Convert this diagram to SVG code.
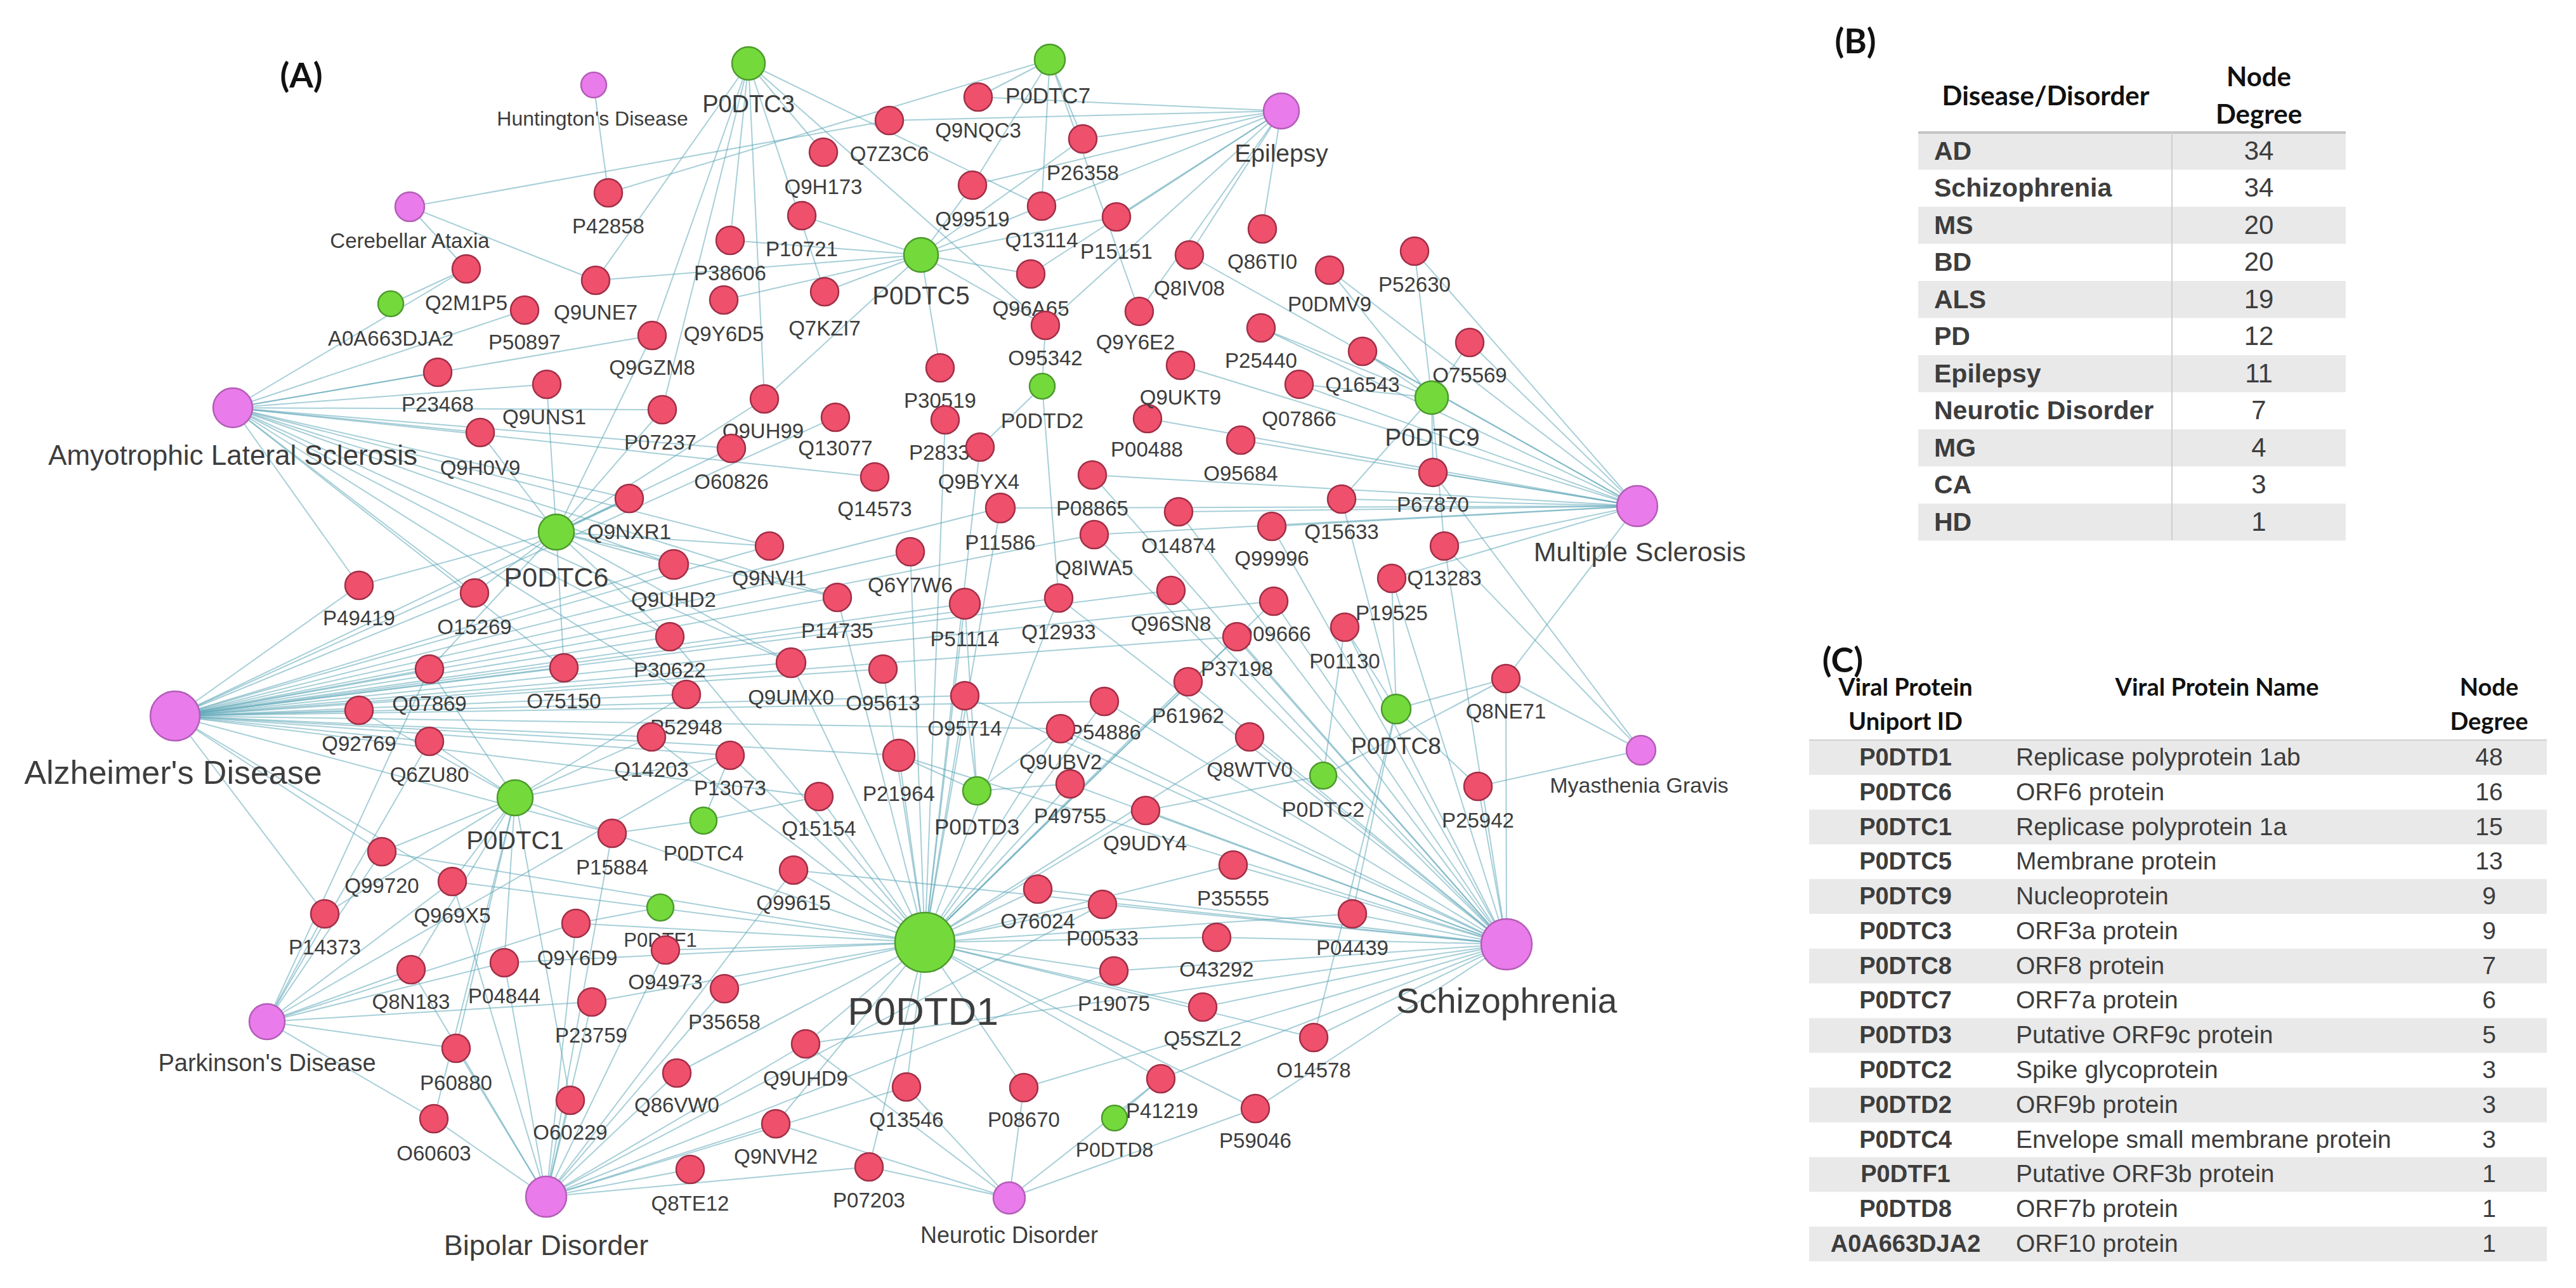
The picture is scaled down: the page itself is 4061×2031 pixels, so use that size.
<svg xmlns="http://www.w3.org/2000/svg" width="4061" height="2031" viewBox="0 0 4061 2031">
<style>
.r{fill:#ef506c;stroke:#a22f47;stroke-width:2.5}
.g{fill:#74da3c;stroke:#4c9a2c;stroke-width:2.5}
.d{fill:#e97beb;stroke:#b35db7;stroke-width:2.5}
text{font-family:"Liberation Sans",Arial,sans-serif;fill:#3d3d3d;text-anchor:middle}
.l{font-size:33px}
.t{font-family:Lato,"Liberation Sans",sans-serif;fill:#111}
.tb{font-family:Lato,"Liberation Sans",sans-serif;font-weight:bold;fill:#111}
.gr{fill:#e9e9e9}
</style>
<rect width="4061" height="2031" fill="#ffffff"/>
<text class="tb" x="475" y="138" font-size="54">(A)</text>
<g id="connectors" stroke="#5fa8b8" stroke-width="2" stroke-opacity="0.55" fill="none">
<line x1="936" y1="134" x2="959" y2="304"/>
<line x1="646" y1="326" x2="735" y2="424"/><line x1="646" y1="326" x2="939" y2="442"/><line x1="646" y1="326" x2="1402" y2="190"/>
<line x1="367" y1="643" x2="735" y2="424"/><line x1="367" y1="643" x2="690" y2="587"/><line x1="367" y1="643" x2="862" y2="606"/><line x1="367" y1="643" x2="757" y2="682"/><line x1="367" y1="643" x2="827" y2="489"/><line x1="367" y1="643" x2="1028" y2="529"/><line x1="367" y1="643" x2="1044" y2="646"/><line x1="367" y1="643" x2="1153" y2="707"/><line x1="367" y1="643" x2="992" y2="786"/><line x1="367" y1="643" x2="1062" y2="890"/><line x1="367" y1="643" x2="1213" y2="861"/><line x1="367" y1="643" x2="1056" y2="1004"/><line x1="367" y1="643" x2="889" y2="1053"/><line x1="367" y1="643" x2="566" y2="923"/><line x1="367" y1="643" x2="748" y2="935"/><line x1="367" y1="643" x2="1379" y2="752"/><line x1="367" y1="643" x2="1320" y2="942"/><line x1="367" y1="643" x2="1247" y2="1045"/><line x1="367" y1="643" x2="1082" y2="1095"/>
<line x1="276" y1="1129" x2="566" y2="923"/><line x1="276" y1="1129" x2="748" y2="935"/><line x1="276" y1="1129" x2="677" y2="1055"/><line x1="276" y1="1129" x2="889" y2="1053"/><line x1="276" y1="1129" x2="566" y2="1120"/><line x1="276" y1="1129" x2="677" y2="1169"/><line x1="276" y1="1129" x2="602" y2="1343"/><line x1="276" y1="1129" x2="713" y2="1390"/><line x1="276" y1="1129" x2="512" y2="1441"/><line x1="276" y1="1129" x2="1056" y2="1004"/><line x1="276" y1="1129" x2="1082" y2="1095"/><line x1="276" y1="1129" x2="1027" y2="1162"/><line x1="276" y1="1129" x2="1151" y2="1191"/><line x1="276" y1="1129" x2="1062" y2="890"/><line x1="276" y1="1129" x2="992" y2="786"/><line x1="276" y1="1129" x2="1247" y2="1045"/><line x1="276" y1="1129" x2="1392" y2="1055"/><line x1="276" y1="1129" x2="1320" y2="942"/><line x1="276" y1="1129" x2="1213" y2="861"/><line x1="276" y1="1129" x2="1435" y2="870"/><line x1="276" y1="1129" x2="1521" y2="952"/><line x1="276" y1="1129" x2="1521" y2="1097"/><line x1="276" y1="1129" x2="1669" y2="943"/><line x1="276" y1="1129" x2="1577" y2="801"/><line x1="276" y1="1129" x2="1725" y2="843"/><line x1="276" y1="1129" x2="1741" y2="1106"/><line x1="276" y1="1129" x2="1672" y2="1149"/><line x1="276" y1="1129" x2="1417" y2="1191"/><line x1="276" y1="1129" x2="1291" y2="1256"/><line x1="276" y1="1129" x2="965" y2="1314"/><line x1="276" y1="1129" x2="1846" y2="931"/><line x1="276" y1="1129" x2="2008" y2="948"/><line x1="276" y1="1129" x2="1950" y2="1004"/><line x1="276" y1="1129" x2="1317" y2="658"/>
<line x1="2375" y1="1489" x2="2132" y2="1441"/><line x1="2375" y1="1489" x2="1944" y2="1364"/><line x1="2375" y1="1489" x2="1918" y2="1478"/><line x1="2375" y1="1489" x2="1896" y2="1588"/><line x1="2375" y1="1489" x2="2071" y2="1636"/><line x1="2375" y1="1489" x2="1830" y2="1701"/><line x1="2375" y1="1489" x2="1979" y2="1748"/><line x1="2375" y1="1489" x2="1756" y2="1531"/><line x1="2375" y1="1489" x2="1738" y2="1426"/><line x1="2375" y1="1489" x2="1636" y2="1402"/><line x1="2375" y1="1489" x2="1806" y2="1278"/><line x1="2375" y1="1489" x2="1687" y2="1236"/><line x1="2375" y1="1489" x2="1672" y2="1149"/><line x1="2375" y1="1489" x2="1741" y2="1106"/><line x1="2375" y1="1489" x2="1873" y2="1075"/><line x1="2375" y1="1489" x2="1970" y2="1162"/><line x1="2375" y1="1489" x2="1950" y2="1004"/><line x1="2375" y1="1489" x2="2008" y2="948"/><line x1="2375" y1="1489" x2="1846" y2="931"/><line x1="2375" y1="1489" x2="2120" y2="989"/><line x1="2375" y1="1489" x2="2194" y2="912"/><line x1="2375" y1="1489" x2="2277" y2="861"/><line x1="2375" y1="1489" x2="2374" y2="1070"/><line x1="2375" y1="1489" x2="2330" y2="1240"/><line x1="2375" y1="1489" x2="1669" y2="943"/><line x1="2375" y1="1489" x2="1725" y2="843"/><line x1="2375" y1="1489" x2="1858" y2="807"/><line x1="2375" y1="1489" x2="2005" y2="830"/><line x1="2375" y1="1489" x2="1722" y2="749"/><line x1="2375" y1="1489" x2="1521" y2="1097"/><line x1="2375" y1="1489" x2="1417" y2="1191"/><line x1="2375" y1="1489" x2="1251" y2="1372"/><line x1="2375" y1="1489" x2="1270" y2="1646"/><line x1="2375" y1="1489" x2="1614" y2="1715"/>
<line x1="2581" y1="798" x2="2259" y2="745"/><line x1="2581" y1="798" x2="2115" y2="787"/><line x1="2581" y1="798" x2="2277" y2="861"/><line x1="2581" y1="798" x2="2317" y2="540"/><line x1="2581" y1="798" x2="2230" y2="396"/><line x1="2581" y1="798" x2="2148" y2="554"/><line x1="2581" y1="798" x2="2048" y2="606"/><line x1="2581" y1="798" x2="1988" y2="517"/><line x1="2581" y1="798" x2="1956" y2="694"/><line x1="2581" y1="798" x2="1858" y2="807"/><line x1="2581" y1="798" x2="2005" y2="830"/><line x1="2581" y1="798" x2="1725" y2="843"/><line x1="2581" y1="798" x2="1809" y2="660"/><line x1="2581" y1="798" x2="1722" y2="749"/><line x1="2581" y1="798" x2="1875" y2="402"/><line x1="2581" y1="798" x2="1861" y2="576"/><line x1="2581" y1="798" x2="2194" y2="912"/><line x1="2581" y1="798" x2="2374" y2="1070"/><line x1="2581" y1="798" x2="2096" y2="426"/><line x1="2581" y1="798" x2="1577" y2="801"/>
<line x1="861" y1="1887" x2="684" y2="1764"/><line x1="861" y1="1887" x2="899" y2="1735"/><line x1="861" y1="1887" x2="1067" y2="1692"/><line x1="861" y1="1887" x2="1088" y2="1844"/><line x1="861" y1="1887" x2="1223" y2="1772"/><line x1="861" y1="1887" x2="719" y2="1653"/><line x1="861" y1="1887" x2="795" y2="1518"/><line x1="861" y1="1887" x2="648" y2="1529"/><line x1="861" y1="1887" x2="933" y2="1580"/><line x1="861" y1="1887" x2="908" y2="1456"/><line x1="861" y1="1887" x2="1142" y2="1559"/><line x1="861" y1="1887" x2="1270" y2="1646"/><line x1="861" y1="1887" x2="1049" y2="1498"/><line x1="861" y1="1887" x2="713" y2="1390"/><line x1="861" y1="1887" x2="1370" y2="1840"/><line x1="861" y1="1887" x2="1429" y2="1714"/><line x1="861" y1="1887" x2="965" y2="1314"/><line x1="861" y1="1887" x2="1251" y2="1372"/><line x1="861" y1="1887" x2="1756" y2="1531"/><line x1="861" y1="1887" x2="1738" y2="1426"/>
<line x1="421" y1="1611" x2="512" y2="1441"/><line x1="421" y1="1611" x2="602" y2="1343"/><line x1="421" y1="1611" x2="713" y2="1390"/><line x1="421" y1="1611" x2="648" y2="1529"/><line x1="421" y1="1611" x2="795" y2="1518"/><line x1="421" y1="1611" x2="719" y2="1653"/><line x1="421" y1="1611" x2="684" y2="1764"/><line x1="421" y1="1611" x2="933" y2="1580"/><line x1="421" y1="1611" x2="908" y2="1456"/><line x1="421" y1="1611" x2="677" y2="1169"/><line x1="421" y1="1611" x2="1151" y2="1191"/><line x1="421" y1="1611" x2="677" y2="1055"/>
<line x1="2020" y1="175" x2="1990" y2="361"/><line x1="2020" y1="175" x2="1875" y2="402"/><line x1="2020" y1="175" x2="1760" y2="342"/><line x1="2020" y1="175" x2="1707" y2="219"/><line x1="2020" y1="175" x2="1642" y2="325"/><line x1="2020" y1="175" x2="1625" y2="432"/><line x1="2020" y1="175" x2="1542" y2="153"/><line x1="2020" y1="175" x2="1796" y2="491"/><line x1="2020" y1="175" x2="1533" y2="292"/><line x1="2020" y1="175" x2="1402" y2="190"/><line x1="2020" y1="175" x2="1648" y2="513"/>
<line x1="1591" y1="1889" x2="1429" y2="1714"/><line x1="1591" y1="1889" x2="1614" y2="1715"/><line x1="1591" y1="1889" x2="1370" y2="1840"/><line x1="1591" y1="1889" x2="1830" y2="1701"/><line x1="1591" y1="1889" x2="1270" y2="1646"/><line x1="1591" y1="1889" x2="1223" y2="1772"/><line x1="1591" y1="1889" x2="1979" y2="1748"/>
<line x1="2587" y1="1183" x2="2330" y2="1240"/><line x1="2587" y1="1183" x2="2374" y2="1070"/><line x1="2587" y1="1183" x2="2259" y2="745"/><line x1="2587" y1="1183" x2="2277" y2="861"/>
<line x1="1458" y1="1486" x2="1251" y2="1372"/><line x1="1458" y1="1486" x2="1636" y2="1402"/><line x1="1458" y1="1486" x2="1738" y2="1426"/><line x1="1458" y1="1486" x2="1756" y2="1531"/><line x1="1458" y1="1486" x2="1142" y2="1559"/><line x1="1458" y1="1486" x2="1049" y2="1498"/><line x1="1458" y1="1486" x2="1270" y2="1646"/><line x1="1458" y1="1486" x2="1429" y2="1714"/><line x1="1458" y1="1486" x2="1614" y2="1715"/><line x1="1458" y1="1486" x2="1370" y2="1840"/><line x1="1458" y1="1486" x2="1223" y2="1772"/><line x1="1458" y1="1486" x2="1067" y2="1692"/><line x1="1458" y1="1486" x2="1830" y2="1701"/><line x1="1458" y1="1486" x2="1979" y2="1748"/><line x1="1458" y1="1486" x2="1896" y2="1588"/><line x1="1458" y1="1486" x2="1918" y2="1478"/><line x1="1458" y1="1486" x2="1944" y2="1364"/><line x1="1458" y1="1486" x2="2132" y2="1441"/><line x1="1458" y1="1486" x2="2071" y2="1636"/><line x1="1458" y1="1486" x2="1417" y2="1191"/><line x1="1458" y1="1486" x2="1291" y2="1256"/><line x1="1458" y1="1486" x2="1151" y2="1191"/><line x1="1458" y1="1486" x2="1521" y2="952"/><line x1="1458" y1="1486" x2="1320" y2="942"/><line x1="1458" y1="1486" x2="1521" y2="1097"/><line x1="1458" y1="1486" x2="1672" y2="1149"/><line x1="1458" y1="1486" x2="1687" y2="1236"/><line x1="1458" y1="1486" x2="1806" y2="1278"/><line x1="1458" y1="1486" x2="1873" y2="1075"/><line x1="1458" y1="1486" x2="1970" y2="1162"/><line x1="1458" y1="1486" x2="1741" y2="1106"/><line x1="1458" y1="1486" x2="1027" y2="1162"/><line x1="1458" y1="1486" x2="965" y2="1314"/><line x1="1458" y1="1486" x2="908" y2="1456"/><line x1="1458" y1="1486" x2="933" y2="1580"/><line x1="1458" y1="1486" x2="713" y2="1390"/><line x1="1458" y1="1486" x2="602" y2="1343"/><line x1="1458" y1="1486" x2="795" y2="1518"/><line x1="1458" y1="1486" x2="1056" y2="1004"/><line x1="1458" y1="1486" x2="1247" y2="1045"/><line x1="1458" y1="1486" x2="1392" y2="1055"/><line x1="1458" y1="1486" x2="1435" y2="870"/><line x1="1458" y1="1486" x2="1577" y2="801"/><line x1="1458" y1="1486" x2="1545" y2="705"/><line x1="1458" y1="1486" x2="1490" y2="662"/><line x1="1458" y1="1486" x2="1669" y2="943"/><line x1="1458" y1="1486" x2="1950" y2="1004"/><line x1="1458" y1="1486" x2="2008" y2="948"/>
<line x1="877" y1="839" x2="992" y2="786"/><line x1="877" y1="839" x2="566" y2="923"/><line x1="877" y1="839" x2="748" y2="935"/><line x1="877" y1="839" x2="1062" y2="890"/><line x1="877" y1="839" x2="1056" y2="1004"/><line x1="877" y1="839" x2="757" y2="682"/><line x1="877" y1="839" x2="862" y2="606"/><line x1="877" y1="839" x2="1044" y2="646"/><line x1="877" y1="839" x2="1028" y2="529"/><line x1="877" y1="839" x2="677" y2="1055"/><line x1="877" y1="839" x2="889" y2="1053"/><line x1="877" y1="839" x2="1213" y2="861"/><line x1="877" y1="839" x2="1320" y2="942"/><line x1="877" y1="839" x2="1247" y2="1045"/><line x1="877" y1="839" x2="1153" y2="707"/><line x1="877" y1="839" x2="1205" y2="629"/>
<line x1="812" y1="1258" x2="677" y2="1169"/><line x1="812" y1="1258" x2="566" y2="1120"/><line x1="812" y1="1258" x2="677" y2="1055"/><line x1="812" y1="1258" x2="602" y2="1343"/><line x1="812" y1="1258" x2="713" y2="1390"/><line x1="812" y1="1258" x2="512" y2="1441"/><line x1="812" y1="1258" x2="795" y2="1518"/><line x1="812" y1="1258" x2="648" y2="1529"/><line x1="812" y1="1258" x2="719" y2="1653"/><line x1="812" y1="1258" x2="684" y2="1764"/><line x1="812" y1="1258" x2="899" y2="1735"/><line x1="812" y1="1258" x2="965" y2="1314"/><line x1="812" y1="1258" x2="1027" y2="1162"/><line x1="812" y1="1258" x2="1082" y2="1095"/><line x1="812" y1="1258" x2="1151" y2="1191"/>
<line x1="1452" y1="402" x2="1264" y2="340"/><line x1="1452" y1="402" x2="1151" y2="379"/><line x1="1452" y1="402" x2="1141" y2="473"/><line x1="1452" y1="402" x2="1300" y2="460"/><line x1="1452" y1="402" x2="1625" y2="432"/><line x1="1452" y1="402" x2="1648" y2="513"/><line x1="1452" y1="402" x2="1642" y2="325"/><line x1="1452" y1="402" x2="1533" y2="292"/><line x1="1452" y1="402" x2="1482" y2="580"/><line x1="1452" y1="402" x2="939" y2="442"/><line x1="1452" y1="402" x2="1760" y2="342"/><line x1="1452" y1="402" x2="1707" y2="219"/><line x1="1452" y1="402" x2="1205" y2="629"/>
<line x1="2257" y1="627" x2="2148" y2="554"/><line x1="2257" y1="627" x2="2317" y2="540"/><line x1="2257" y1="627" x2="2230" y2="396"/><line x1="2257" y1="627" x2="2096" y2="426"/><line x1="2257" y1="627" x2="2259" y2="745"/><line x1="2257" y1="627" x2="2048" y2="606"/><line x1="2257" y1="627" x2="2115" y2="787"/><line x1="2257" y1="627" x2="2277" y2="861"/><line x1="2257" y1="627" x2="1988" y2="517"/>
<line x1="1180" y1="100" x2="939" y2="442"/><line x1="1180" y1="100" x2="1028" y2="529"/><line x1="1180" y1="100" x2="1044" y2="646"/><line x1="1180" y1="100" x2="1205" y2="629"/><line x1="1180" y1="100" x2="1298" y2="240"/><line x1="1180" y1="100" x2="1300" y2="460"/><line x1="1180" y1="100" x2="1648" y2="513"/><line x1="1180" y1="100" x2="1642" y2="325"/><line x1="1180" y1="100" x2="1151" y2="379"/>
<line x1="2201" y1="1118" x2="2120" y2="989"/><line x1="2201" y1="1118" x2="2194" y2="912"/><line x1="2201" y1="1118" x2="2374" y2="1070"/><line x1="2201" y1="1118" x2="2330" y2="1240"/><line x1="2201" y1="1118" x2="2132" y2="1441"/><line x1="2201" y1="1118" x2="2115" y2="787"/><line x1="2201" y1="1118" x2="2071" y2="1636"/>
<line x1="1655" y1="94" x2="1542" y2="153"/><line x1="1655" y1="94" x2="1707" y2="219"/><line x1="1655" y1="94" x2="959" y2="304"/><line x1="1655" y1="94" x2="1533" y2="292"/><line x1="1655" y1="94" x2="1642" y2="325"/><line x1="1655" y1="94" x2="1796" y2="491"/>
<line x1="1540" y1="1247" x2="1521" y2="952"/><line x1="1540" y1="1247" x2="1521" y2="1097"/><line x1="1540" y1="1247" x2="1417" y2="1191"/><line x1="1540" y1="1247" x2="1672" y2="1149"/><line x1="1540" y1="1247" x2="1687" y2="1236"/>
<line x1="2086" y1="1223" x2="2120" y2="989"/><line x1="2086" y1="1223" x2="2374" y2="1070"/><line x1="2086" y1="1223" x2="1806" y2="1278"/>
<line x1="1643" y1="609" x2="1648" y2="513"/><line x1="1643" y1="609" x2="1545" y2="705"/><line x1="1643" y1="609" x2="1669" y2="943"/>
<line x1="1109" y1="1294" x2="1151" y2="1191"/><line x1="1109" y1="1294" x2="1291" y2="1256"/><line x1="1109" y1="1294" x2="965" y2="1314"/>
<line x1="1041" y1="1431" x2="908" y2="1456"/>
<line x1="1757" y1="1763" x2="1830" y2="1701"/>
<line x1="616" y1="479" x2="735" y2="424"/>
</g>
<g id="n-HD"><circle class="d" cx="936" cy="134" r="20"/><text x="934" y="198" font-size="32">Huntington's Disease</text></g>
<g id="n-CA"><circle class="d" cx="646" cy="326" r="23"/><text x="646" y="391" font-size="33">Cerebellar Ataxia</text></g>
<g id="n-ALS"><circle class="d" cx="367" cy="643" r="31"/><text x="367" y="733" font-size="44">Amyotrophic Lateral Sclerosis</text></g>
<g id="n-AD"><circle class="d" cx="276" cy="1129" r="39"/><text x="273" y="1236" font-size="52">Alzheimer's Disease</text></g>
<g id="n-PD"><circle class="d" cx="421" cy="1611" r="28"/><text x="421" y="1689" font-size="38">Parkinson's Disease</text></g>
<g id="n-BD"><circle class="d" cx="861" cy="1887" r="32"/><text x="861" y="1979" font-size="45">Bipolar Disorder</text></g>
<g id="n-ND"><circle class="d" cx="1591" cy="1889" r="25"/><text x="1591" y="1960" font-size="36">Neurotic Disorder</text></g>
<g id="n-SZ"><circle class="d" cx="2375" cy="1489" r="40"/><text x="2375" y="1597" font-size="55">Schizophrenia</text></g>
<g id="n-MG"><circle class="d" cx="2587" cy="1183" r="23"/><text x="2584" y="1250" font-size="34">Myasthenia Gravis</text></g>
<g id="n-MS"><circle class="d" cx="2581" cy="798" r="32"/><text x="2585" y="885" font-size="43">Multiple Sclerosis</text></g>
<g id="n-EP"><circle class="d" cx="2020" cy="175" r="28"/><text x="2020" y="255" font-size="39">Epilepsy</text></g>
<g id="n-P0DTD1"><circle class="g" cx="1458" cy="1486" r="47"/><text x="1455" y="1616" font-size="62">P0DTD1</text></g>
<g id="n-P0DTC3"><circle class="g" cx="1180" cy="100" r="26"/><text x="1180" y="177" font-size="38">P0DTC3</text></g>
<g id="n-P0DTC7"><circle class="g" cx="1655" cy="94" r="24"/><text x="1652" y="163" font-size="35">P0DTC7</text></g>
<g id="n-P0DTC5"><circle class="g" cx="1452" cy="402" r="27"/><text x="1452" y="480" font-size="40">P0DTC5</text></g>
<g id="n-P0DTC9"><circle class="g" cx="2257" cy="627" r="26"/><text x="2258" y="703" font-size="39">P0DTC9</text></g>
<g id="n-P0DTC6"><circle class="g" cx="877" cy="839" r="28"/><text x="877" y="925" font-size="43">P0DTC6</text></g>
<g id="n-P0DTC1"><circle class="g" cx="812" cy="1258" r="28"/><text x="812" y="1339" font-size="40">P0DTC1</text></g>
<g id="n-P0DTC8"><circle class="g" cx="2201" cy="1118" r="23"/><text x="2201" y="1189" font-size="37">P0DTC8</text></g>
<g id="n-P0DTC2"><circle class="g" cx="2086" cy="1223" r="21"/><text x="2086" y="1288" font-size="34">P0DTC2</text></g>
<g id="n-P0DTD3"><circle class="g" cx="1540" cy="1247" r="22"/><text x="1540" y="1316" font-size="35">P0DTD3</text></g>
<g id="n-P0DTC4"><circle class="g" cx="1109" cy="1294" r="21"/><text x="1109" y="1357" font-size="33">P0DTC4</text></g>
<g id="n-P0DTF1"><circle class="g" cx="1041" cy="1431" r="21"/><text x="1041" y="1493" font-size="31">P0DTF1</text></g>
<g id="n-P0DTD8"><circle class="g" cx="1757" cy="1763" r="20"/><text x="1757" y="1824" font-size="32">P0DTD8</text></g>
<g id="n-P0DTD2"><circle class="g" cx="1643" cy="609" r="20"/><text x="1643" y="675" font-size="34">P0DTD2</text></g>
<g id="n-A0A663DJA2"><circle class="g" cx="616" cy="479" r="20"/><text x="616" y="545" font-size="33">A0A663DJA2</text></g>
<g id="n-Q2M1P5"><circle class="r" cx="735" cy="424" r="22"/><text class="l" x="735" y="489">Q2M1P5</text></g>
<g id="n-P50897"><circle class="r" cx="827" cy="489" r="22"/><text class="l" x="827" y="551">P50897</text></g>
<g id="n-P23468"><circle class="r" cx="690" cy="587" r="22"/><text class="l" x="690" y="649">P23468</text></g>
<g id="n-Q9UNS1"><circle class="r" cx="862" cy="606" r="22"/><text class="l" x="858" y="669">Q9UNS1</text></g>
<g id="n-Q9H0V9"><circle class="r" cx="757" cy="682" r="22"/><text class="l" x="757" y="749">Q9H0V9</text></g>
<g id="n-P49419"><circle class="r" cx="566" cy="923" r="22"/><text class="l" x="566" y="986">P49419</text></g>
<g id="n-O15269"><circle class="r" cx="748" cy="935" r="22"/><text class="l" x="748" y="1000">O15269</text></g>
<g id="n-Q07869"><circle class="r" cx="677" cy="1055" r="22"/><text class="l" x="677" y="1121">Q07869</text></g>
<g id="n-O75150"><circle class="r" cx="889" cy="1053" r="22"/><text class="l" x="889" y="1117">O75150</text></g>
<g id="n-Q92769"><circle class="r" cx="566" cy="1120" r="22"/><text class="l" x="566" y="1184">Q92769</text></g>
<g id="n-Q6ZU80"><circle class="r" cx="677" cy="1169" r="22"/><text class="l" x="677" y="1233">Q6ZU80</text></g>
<g id="n-Q99720"><circle class="r" cx="602" cy="1343" r="22"/><text class="l" x="602" y="1408">Q99720</text></g>
<g id="n-Q969X5"><circle class="r" cx="713" cy="1390" r="22"/><text class="l" x="713" y="1455">Q969X5</text></g>
<g id="n-P14373"><circle class="r" cx="512" cy="1441" r="22"/><text class="l" x="512" y="1505">P14373</text></g>
<g id="n-Q8N183"><circle class="r" cx="648" cy="1529" r="22"/><text class="l" x="648" y="1591">Q8N183</text></g>
<g id="n-P04844"><circle class="r" cx="795" cy="1518" r="22"/><text class="l" x="795" y="1582">P04844</text></g>
<g id="n-Q9Y6D9"><circle class="r" cx="908" cy="1456" r="22"/><text class="l" x="910" y="1522">Q9Y6D9</text></g>
<g id="n-P23759"><circle class="r" cx="933" cy="1580" r="22"/><text class="l" x="932" y="1644">P23759</text></g>
<g id="n-P60880"><circle class="r" cx="719" cy="1653" r="22"/><text class="l" x="719" y="1719">P60880</text></g>
<g id="n-O60603"><circle class="r" cx="684" cy="1764" r="22"/><text class="l" x="684" y="1830">O60603</text></g>
<g id="n-O60229"><circle class="r" cx="899" cy="1735" r="22"/><text class="l" x="899" y="1797">O60229</text></g>
<g id="n-P15884"><circle class="r" cx="965" cy="1314" r="22"/><text class="l" x="965" y="1379">P15884</text></g>
<g id="n-Q99615"><circle class="r" cx="1251" cy="1372" r="22"/><text class="l" x="1251" y="1435">Q99615</text></g>
<g id="n-O94973"><circle class="r" cx="1049" cy="1498" r="22"/><text class="l" x="1049" y="1560">O94973</text></g>
<g id="n-P35658"><circle class="r" cx="1142" cy="1559" r="22"/><text class="l" x="1142" y="1623">P35658</text></g>
<g id="n-Q9UHD9"><circle class="r" cx="1270" cy="1646" r="22"/><text class="l" x="1270" y="1712">Q9UHD9</text></g>
<g id="n-Q86VW0"><circle class="r" cx="1067" cy="1692" r="22"/><text class="l" x="1067" y="1754">Q86VW0</text></g>
<g id="n-Q9NVH2"><circle class="r" cx="1223" cy="1772" r="22"/><text class="l" x="1223" y="1835">Q9NVH2</text></g>
<g id="n-Q8TE12"><circle class="r" cx="1088" cy="1844" r="22"/><text class="l" x="1088" y="1909">Q8TE12</text></g>
<g id="n-P07203"><circle class="r" cx="1370" cy="1840" r="22"/><text class="l" x="1370" y="1904">P07203</text></g>
<g id="n-Q13546"><circle class="r" cx="1429" cy="1714" r="22"/><text class="l" x="1429" y="1777">Q13546</text></g>
<g id="n-P08670"><circle class="r" cx="1614" cy="1715" r="22"/><text class="l" x="1614" y="1777">P08670</text></g>
<g id="n-O76024"><circle class="r" cx="1636" cy="1402" r="22"/><text class="l" x="1636" y="1464">O76024</text></g>
<g id="n-P00533"><circle class="r" cx="1738" cy="1426" r="22"/><text class="l" x="1738" y="1491">P00533</text></g>
<g id="n-P19075"><circle class="r" cx="1756" cy="1531" r="22"/><text class="l" x="1756" y="1594">P19075</text></g>
<g id="n-P35555"><circle class="r" cx="1944" cy="1364" r="22"/><text class="l" x="1944" y="1428">P35555</text></g>
<g id="n-P04439"><circle class="r" cx="2132" cy="1441" r="22"/><text class="l" x="2132" y="1506">P04439</text></g>
<g id="n-O43292"><circle class="r" cx="1918" cy="1478" r="22"/><text class="l" x="1918" y="1540">O43292</text></g>
<g id="n-Q5SZL2"><circle class="r" cx="1896" cy="1588" r="22"/><text class="l" x="1896" y="1649">Q5SZL2</text></g>
<g id="n-O14578"><circle class="r" cx="2071" cy="1636" r="22"/><text class="l" x="2071" y="1699">O14578</text></g>
<g id="n-P41219"><circle class="r" cx="1830" cy="1701" r="22"/><text class="l" x="1832" y="1763">P41219</text></g>
<g id="n-P59046"><circle class="r" cx="1979" cy="1748" r="22"/><text class="l" x="1979" y="1810">P59046</text></g>
<g id="n-Q9NQC3"><circle class="r" cx="1542" cy="153" r="22"/><text class="l" x="1542" y="217">Q9NQC3</text></g>
<g id="n-Q7Z3C6"><circle class="r" cx="1402" cy="190" r="22"/><text class="l" x="1402" y="254">Q7Z3C6</text></g>
<g id="n-Q9H173"><circle class="r" cx="1298" cy="240" r="22"/><text class="l" x="1298" y="306">Q9H173</text></g>
<g id="n-P42858"><circle class="r" cx="959" cy="304" r="22"/><text class="l" x="959" y="368">P42858</text></g>
<g id="n-P10721"><circle class="r" cx="1264" cy="340" r="22"/><text class="l" x="1264" y="404">P10721</text></g>
<g id="n-Q99519"><circle class="r" cx="1533" cy="292" r="22"/><text class="l" x="1533" y="357">Q99519</text></g>
<g id="n-P26358"><circle class="r" cx="1707" cy="219" r="22"/><text class="l" x="1707" y="284">P26358</text></g>
<g id="n-Q13114"><circle class="r" cx="1642" cy="325" r="22"/><text class="l" x="1642" y="390">Q13114</text></g>
<g id="n-P15151"><circle class="r" cx="1760" cy="342" r="22"/><text class="l" x="1760" y="408">P15151</text></g>
<g id="n-P38606"><circle class="r" cx="1151" cy="379" r="22"/><text class="l" x="1151" y="442">P38606</text></g>
<g id="n-Q9UNE7"><circle class="r" cx="939" cy="442" r="22"/><text class="l" x="939" y="504">Q9UNE7</text></g>
<g id="n-Q96A65"><circle class="r" cx="1625" cy="432" r="22"/><text class="l" x="1625" y="498">Q96A65</text></g>
<g id="n-Q9Y6D5"><circle class="r" cx="1141" cy="473" r="22"/><text class="l" x="1141" y="538">Q9Y6D5</text></g>
<g id="n-Q7KZI7"><circle class="r" cx="1300" cy="460" r="22"/><text class="l" x="1300" y="529">Q7KZI7</text></g>
<g id="n-O95342"><circle class="r" cx="1648" cy="513" r="22"/><text class="l" x="1648" y="576">O95342</text></g>
<g id="n-Q9GZM8"><circle class="r" cx="1028" cy="529" r="22"/><text class="l" x="1028" y="591">Q9GZM8</text></g>
<g id="n-Q9Y6E2"><circle class="r" cx="1796" cy="491" r="22"/><text class="l" x="1790" y="551">Q9Y6E2</text></g>
<g id="n-P30519"><circle class="r" cx="1482" cy="580" r="22"/><text class="l" x="1482" y="643">P30519</text></g>
<g id="n-P07237"><circle class="r" cx="1044" cy="646" r="22"/><text class="l" x="1041" y="709">P07237</text></g>
<g id="n-Q9UH99"><circle class="r" cx="1205" cy="629" r="22"/><text class="l" x="1203" y="691">Q9UH99</text></g>
<g id="n-Q13077"><circle class="r" cx="1317" cy="658" r="22"/><text class="l" x="1317" y="718">Q13077</text></g>
<g id="n-P28331"><circle class="r" cx="1490" cy="662" r="22"/><text class="l" x="1490" y="725">P28331</text></g>
<g id="n-O60826"><circle class="r" cx="1153" cy="707" r="22"/><text class="l" x="1153" y="771">O60826</text></g>
<g id="n-Q9BYX4"><circle class="r" cx="1545" cy="705" r="22"/><text class="l" x="1543" y="771">Q9BYX4</text></g>
<g id="n-P00488"><circle class="r" cx="1809" cy="660" r="22"/><text class="l" x="1808" y="720">P00488</text></g>
<g id="n-Q14573"><circle class="r" cx="1379" cy="752" r="22"/><text class="l" x="1379" y="814">Q14573</text></g>
<g id="n-P08865"><circle class="r" cx="1722" cy="749" r="22"/><text class="l" x="1722" y="813">P08865</text></g>
<g id="n-Q9NXR1"><circle class="r" cx="992" cy="786" r="22"/><text class="l" x="992" y="850">Q9NXR1</text></g>
<g id="n-P11586"><circle class="r" cx="1577" cy="801" r="23"/><text class="l" x="1577" y="867">P11586</text></g>
<g id="n-Q9NVI1"><circle class="r" cx="1213" cy="861" r="22"/><text class="l" x="1213" y="923">Q9NVI1</text></g>
<g id="n-Q6Y7W6"><circle class="r" cx="1435" cy="870" r="22"/><text class="l" x="1435" y="934">Q6Y7W6</text></g>
<g id="n-Q8IWA5"><circle class="r" cx="1725" cy="843" r="22"/><text class="l" x="1725" y="907">Q8IWA5</text></g>
<g id="n-Q9UHD2"><circle class="r" cx="1062" cy="890" r="23"/><text class="l" x="1062" y="957">Q9UHD2</text></g>
<g id="n-P14735"><circle class="r" cx="1320" cy="942" r="22"/><text class="l" x="1320" y="1006">P14735</text></g>
<g id="n-P51114"><circle class="r" cx="1521" cy="952" r="24"/><text class="l" x="1521" y="1019">P51114</text></g>
<g id="n-Q12933"><circle class="r" cx="1669" cy="943" r="22"/><text class="l" x="1669" y="1008">Q12933</text></g>
<g id="n-P30622"><circle class="r" cx="1056" cy="1004" r="22"/><text class="l" x="1056" y="1068">P30622</text></g>
<g id="n-Q9UMX0"><circle class="r" cx="1247" cy="1045" r="23"/><text class="l" x="1247" y="1111">Q9UMX0</text></g>
<g id="n-O95613"><circle class="r" cx="1392" cy="1055" r="22"/><text class="l" x="1392" y="1120">O95613</text></g>
<g id="n-P52948"><circle class="r" cx="1082" cy="1095" r="22"/><text class="l" x="1082" y="1158">P52948</text></g>
<g id="n-O95714"><circle class="r" cx="1521" cy="1097" r="22"/><text class="l" x="1521" y="1160">O95714</text></g>
<g id="n-P54886"><circle class="r" cx="1741" cy="1106" r="22"/><text class="l" x="1742" y="1166">P54886</text></g>
<g id="n-Q9UBV2"><circle class="r" cx="1672" cy="1149" r="22"/><text class="l" x="1672" y="1213">Q9UBV2</text></g>
<g id="n-Q14203"><circle class="r" cx="1027" cy="1162" r="22"/><text class="l" x="1027" y="1225">Q14203</text></g>
<g id="n-P13073"><circle class="r" cx="1151" cy="1191" r="22"/><text class="l" x="1151" y="1254">P13073</text></g>
<g id="n-P21964"><circle class="r" cx="1417" cy="1191" r="25"/><text class="l" x="1417" y="1263">P21964</text></g>
<g id="n-P49755"><circle class="r" cx="1687" cy="1236" r="22"/><text class="l" x="1687" y="1298">P49755</text></g>
<g id="n-Q15154"><circle class="r" cx="1291" cy="1256" r="22"/><text class="l" x="1291" y="1318">Q15154</text></g>
<g id="n-Q9UDY4"><circle class="r" cx="1806" cy="1278" r="22"/><text class="l" x="1805" y="1341">Q9UDY4</text></g>
<g id="n-Q86TI0"><circle class="r" cx="1990" cy="361" r="22"/><text class="l" x="1990" y="424">Q86TI0</text></g>
<g id="n-Q8IV08"><circle class="r" cx="1875" cy="402" r="22"/><text class="l" x="1875" y="466">Q8IV08</text></g>
<g id="n-P52630"><circle class="r" cx="2230" cy="396" r="22"/><text class="l" x="2230" y="460">P52630</text></g>
<g id="n-P0DMV9"><circle class="r" cx="2096" cy="426" r="22"/><text class="l" x="2096" y="491">P0DMV9</text></g>
<g id="n-P25440"><circle class="r" cx="1988" cy="517" r="22"/><text class="l" x="1988" y="580">P25440</text></g>
<g id="n-Q16543"><circle class="r" cx="2148" cy="554" r="22"/><text class="l" x="2148" y="618">Q16543</text></g>
<g id="n-O75569"><circle class="r" cx="2317" cy="540" r="22"/><text class="l" x="2317" y="603">O75569</text></g>
<g id="n-Q9UKT9"><circle class="r" cx="1861" cy="576" r="22"/><text class="l" x="1861" y="638">Q9UKT9</text></g>
<g id="n-Q07866"><circle class="r" cx="2048" cy="606" r="22"/><text class="l" x="2048" y="672">Q07866</text></g>
<g id="n-O95684"><circle class="r" cx="1956" cy="694" r="22"/><text class="l" x="1956" y="758">O95684</text></g>
<g id="n-P67870"><circle class="r" cx="2259" cy="745" r="22"/><text class="l" x="2259" y="807">P67870</text></g>
<g id="n-Q15633"><circle class="r" cx="2115" cy="787" r="22"/><text class="l" x="2115" y="850">Q15633</text></g>
<g id="n-O14874"><circle class="r" cx="1858" cy="807" r="22"/><text class="l" x="1858" y="872">O14874</text></g>
<g id="n-Q99996"><circle class="r" cx="2005" cy="830" r="22"/><text class="l" x="2005" y="892">Q99996</text></g>
<g id="n-Q13283"><circle class="r" cx="2277" cy="861" r="22"/><text class="l" x="2277" y="923">Q13283</text></g>
<g id="n-P19525"><circle class="r" cx="2194" cy="912" r="22"/><text class="l" x="2194" y="978">P19525</text></g>
<g id="n-Q96SN8"><circle class="r" cx="1846" cy="931" r="22"/><text class="l" x="1846" y="995">Q96SN8</text></g>
<g id="n-Q09666"><circle class="r" cx="2008" cy="948" r="22"/><text class="l" x="2008" y="1011">Q09666</text></g>
<g id="n-P37198"><circle class="r" cx="1950" cy="1004" r="22"/><text class="l" x="1950" y="1066">P37198</text></g>
<g id="n-P01130"><circle class="r" cx="2120" cy="989" r="22"/><text class="l" x="2120" y="1054">P01130</text></g>
<g id="n-Q8NE71"><circle class="r" cx="2374" cy="1070" r="22"/><text class="l" x="2374" y="1133">Q8NE71</text></g>
<g id="n-P61962"><circle class="r" cx="1873" cy="1075" r="22"/><text class="l" x="1873" y="1140">P61962</text></g>
<g id="n-Q8WTV0"><circle class="r" cx="1970" cy="1162" r="22"/><text class="l" x="1970" y="1225">Q8WTV0</text></g>
<g id="n-P25942"><circle class="r" cx="2330" cy="1240" r="22"/><text class="l" x="2330" y="1305">P25942</text></g>
<g id="table-B">
<text class="tb" x="2925" y="84" font-size="54">(B)</text>
<text class="tb" x="3225" y="166" font-size="42">Disease/Disorder</text>
<text class="tb" x="3561" y="136" font-size="42">Node</text>
<text class="tb" x="3561" y="195" font-size="42">Degree</text>
<rect class="gr" x="3024" y="209" width="674" height="58.5"/>
<rect class="gr" x="3024" y="326" width="674" height="58.5"/>
<rect class="gr" x="3024" y="443" width="674" height="58.5"/>
<rect class="gr" x="3024" y="560" width="674" height="58.5"/>
<rect class="gr" x="3024" y="677" width="674" height="58.5"/>
<rect class="gr" x="3024" y="794" width="674" height="58.5"/>
<line x1="3024" y1="209" x2="3698" y2="209" stroke="#c4c4c4" stroke-width="4"/>
<line x1="3424" y1="209" x2="3424" y2="852" stroke="#cfcfcf" stroke-width="2"/>
<g class="tb" font-size="41">
<text x="3049" y="252" style="text-anchor:start">AD</text>
<text x="3049" y="310" style="text-anchor:start">Schizophrenia</text>
<text x="3049" y="369" style="text-anchor:start">MS</text>
<text x="3049" y="427" style="text-anchor:start">BD</text>
<text x="3049" y="486" style="text-anchor:start">ALS</text>
<text x="3049" y="544" style="text-anchor:start">PD</text>
<text x="3049" y="603" style="text-anchor:start">Epilepsy</text>
<text x="3049" y="661" style="text-anchor:start">Neurotic Disorder</text>
<text x="3049" y="720" style="text-anchor:start">MG</text>
<text x="3049" y="778" style="text-anchor:start">CA</text>
<text x="3049" y="837" style="text-anchor:start">HD</text>
</g>
<g class="t" font-size="42">
<text x="3561" y="252">34</text><text x="3561" y="310">34</text><text x="3561" y="369">20</text><text x="3561" y="427">20</text><text x="3561" y="486">19</text><text x="3561" y="544">12</text><text x="3561" y="603">11</text><text x="3561" y="661">7</text><text x="3561" y="720">4</text><text x="3561" y="778">3</text><text x="3561" y="837">1</text>
</g>
</g>
<g id="table-C">
<text class="tb" x="2905" y="1060" font-size="54">(C)</text>
<text class="tb" x="3004" y="1097" font-size="38">Viral Protein</text>
<text class="tb" x="3004" y="1151" font-size="38">Uniport ID</text>
<text class="tb" x="3495" y="1097" font-size="38">Viral Protein Name</text>
<text class="tb" x="3924" y="1097" font-size="38">Node</text>
<text class="tb" x="3924" y="1151" font-size="38">Degree</text>
<rect class="gr" x="2852" y="1167" width="1163" height="54.8"/>
<rect class="gr" x="2852" y="1276.6" width="1163" height="54.8"/>
<rect class="gr" x="2852" y="1386.2" width="1163" height="54.8"/>
<rect class="gr" x="2852" y="1495.8" width="1163" height="54.8"/>
<rect class="gr" x="2852" y="1605.4" width="1163" height="54.8"/>
<rect class="gr" x="2852" y="1715" width="1163" height="54.8"/>
<rect class="gr" x="2852" y="1824.6" width="1163" height="54.8"/>
<rect class="gr" x="2852" y="1934.2" width="1163" height="54.8"/>
<line x1="2852" y1="1167" x2="4015" y2="1167" stroke="#d0d0d0" stroke-width="2"/>
<g class="tb" font-size="38">
<text x="3004" y="1207">P0DTD1</text><text x="3004" y="1262">P0DTC6</text><text x="3004" y="1317">P0DTC1</text><text x="3004" y="1371">P0DTC5</text><text x="3004" y="1426">P0DTC9</text><text x="3004" y="1481">P0DTC3</text><text x="3004" y="1536">P0DTC8</text><text x="3004" y="1590">P0DTC7</text><text x="3004" y="1645">P0DTD3</text><text x="3004" y="1700">P0DTC2</text><text x="3004" y="1755">P0DTD2</text><text x="3004" y="1810">P0DTC4</text><text x="3004" y="1864">P0DTF1</text><text x="3004" y="1919">P0DTD8</text><text x="3004" y="1974">A0A663DJA2</text>
</g>
<g class="t" font-size="39">
<text x="3178" y="1207" style="text-anchor:start">Replicase polyprotein 1ab</text>
<text x="3178" y="1262" style="text-anchor:start">ORF6 protein</text>
<text x="3178" y="1317" style="text-anchor:start">Replicase polyprotein 1a</text>
<text x="3178" y="1371" style="text-anchor:start">Membrane protein</text>
<text x="3178" y="1426" style="text-anchor:start">Nucleoprotein</text>
<text x="3178" y="1481" style="text-anchor:start">ORF3a protein</text>
<text x="3178" y="1536" style="text-anchor:start">ORF8 protein</text>
<text x="3178" y="1590" style="text-anchor:start">ORF7a protein</text>
<text x="3178" y="1645" style="text-anchor:start">Putative ORF9c protein</text>
<text x="3178" y="1700" style="text-anchor:start">Spike glycoprotein</text>
<text x="3178" y="1755" style="text-anchor:start">ORF9b protein</text>
<text x="3178" y="1810" style="text-anchor:start">Envelope small membrane protein</text>
<text x="3178" y="1864" style="text-anchor:start">Putative ORF3b protein</text>
<text x="3178" y="1919" style="text-anchor:start">ORF7b protein</text>
<text x="3178" y="1974" style="text-anchor:start">ORF10 protein</text>
</g>
<g class="t" font-size="39">
<text x="3924" y="1207">48</text><text x="3924" y="1262">16</text><text x="3924" y="1317">15</text><text x="3924" y="1371">13</text><text x="3924" y="1426">9</text><text x="3924" y="1481">9</text><text x="3924" y="1536">7</text><text x="3924" y="1590">6</text><text x="3924" y="1645">5</text><text x="3924" y="1700">3</text><text x="3924" y="1755">3</text><text x="3924" y="1810">3</text><text x="3924" y="1864">1</text><text x="3924" y="1919">1</text><text x="3924" y="1974">1</text>
</g>
</g>
</svg>
